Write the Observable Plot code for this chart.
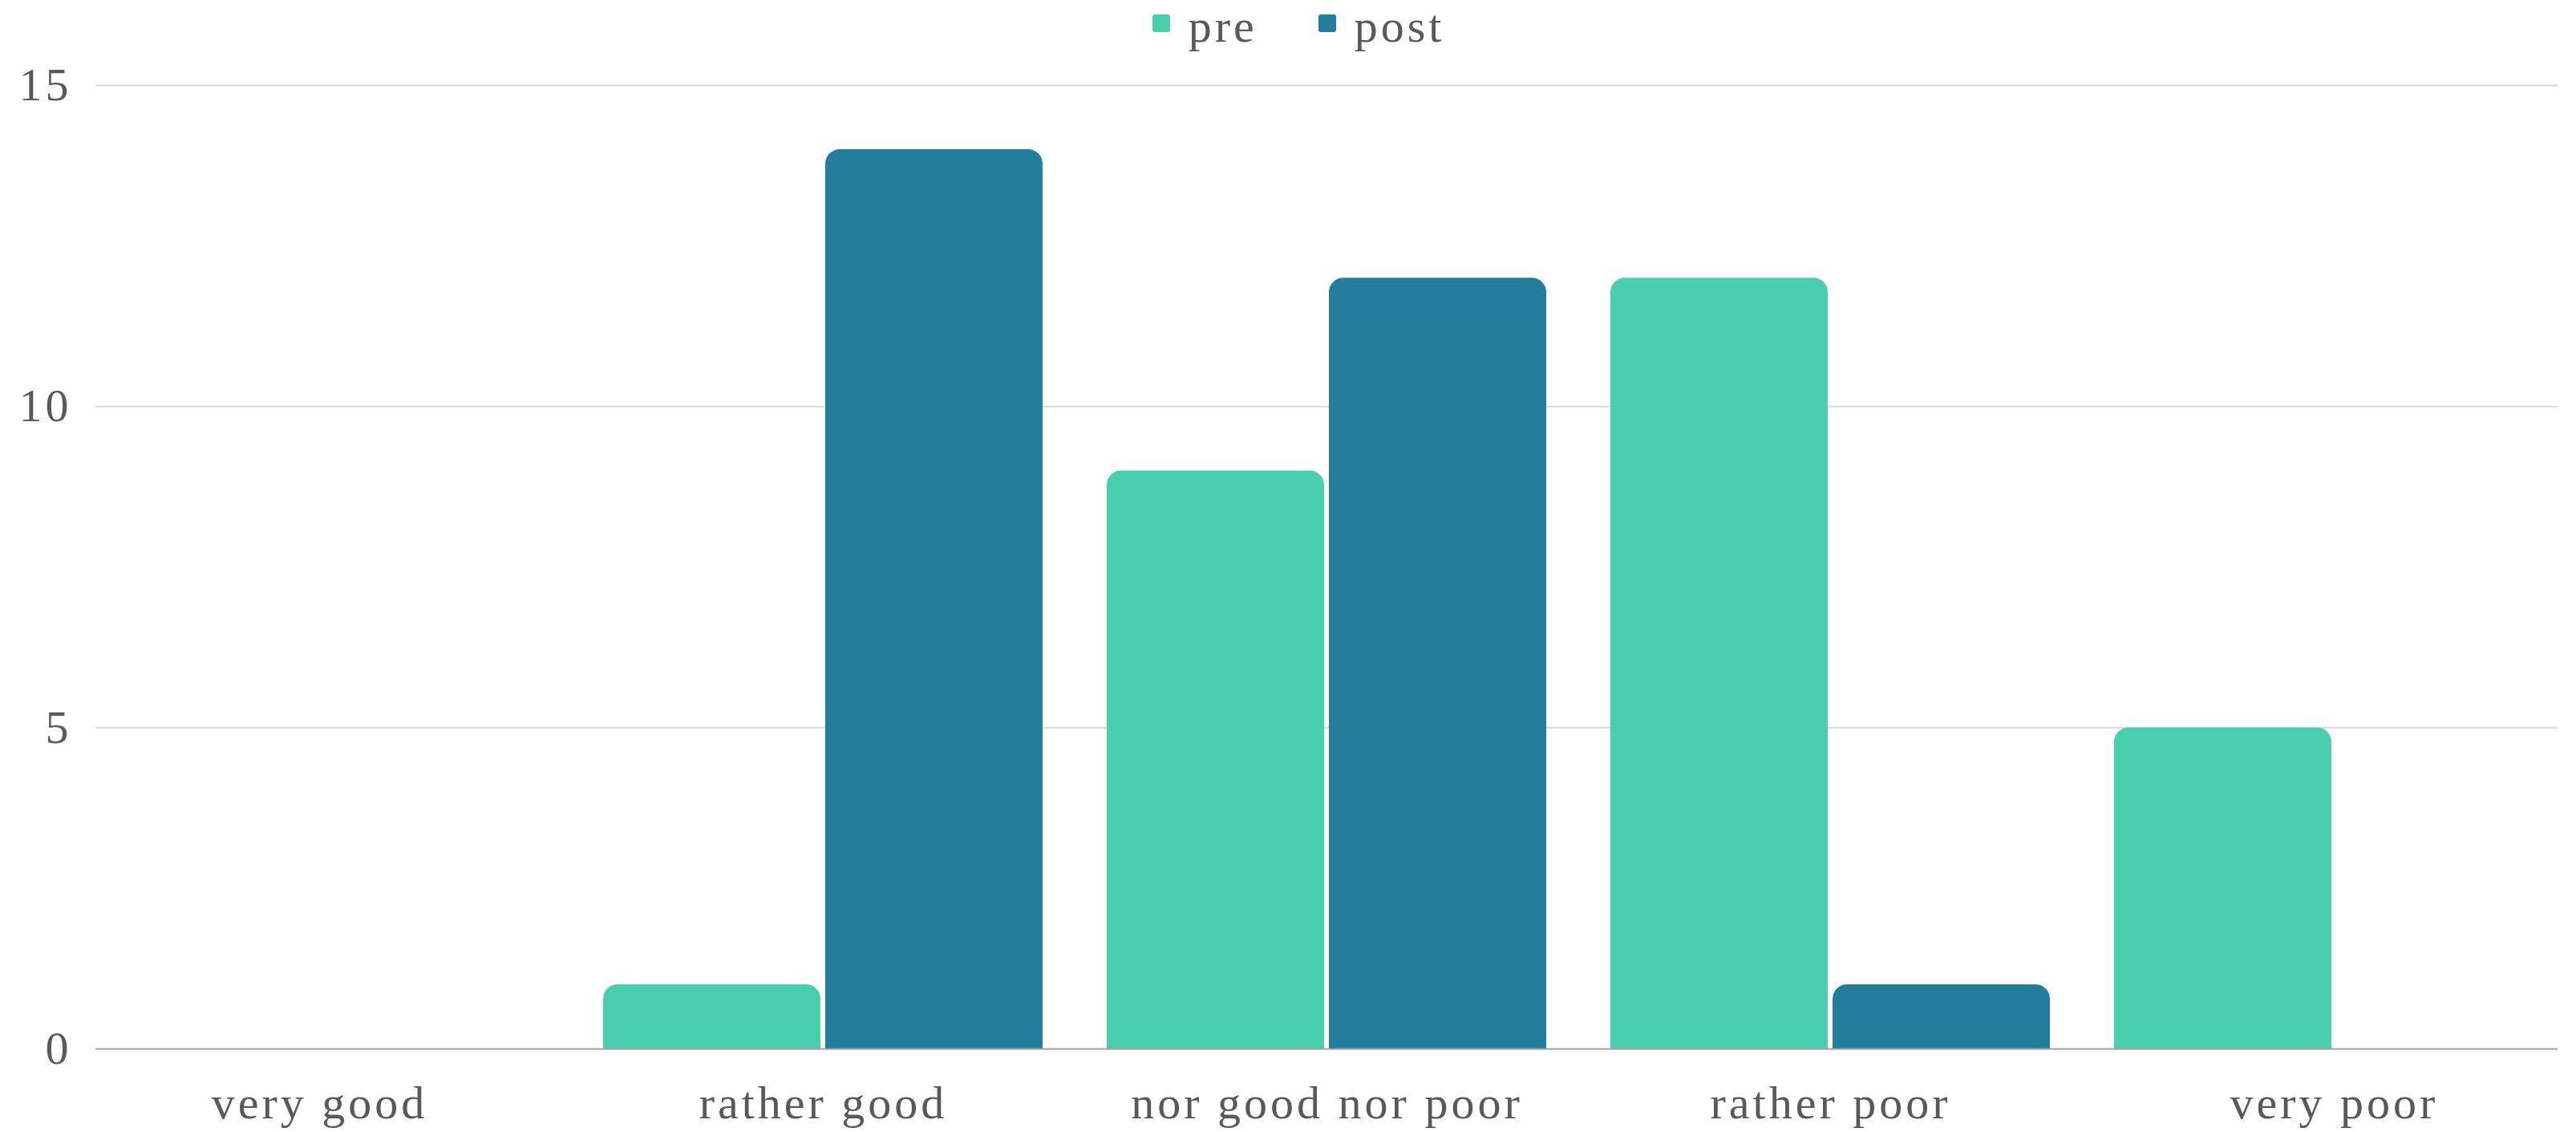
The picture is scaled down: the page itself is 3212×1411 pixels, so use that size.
<!DOCTYPE html>
<html>
<head>
<meta charset="utf-8">
<script src="https://cdn.jsdelivr.net/npm/d3@7"></script>
<script src="https://cdn.jsdelivr.net/npm/@observablehq/plot@0.6"></script>
<style>
  html, body { margin: 0; padding: 0; background: #ffffff; }
  #legend { height: 66px; display: flex; justify-content: center; padding-left: 26px; box-sizing: border-box;
            font-family: "Liberation Serif", "Times New Roman", serif; font-size: 58px; color: #595959; letter-spacing: 4px; }
  .item { display: flex; align-items: flex-start; margin: 0 38px; }
  .sw { width: 22px; height: 22px; border-radius: 3px; margin-top: 18px; margin-right: 23px; }
  .lab { line-height: 66px; }
</style>
</head>
<body>
<div id="legend"></div>
<div id="chart"></div>
<script>
const categories = ["very good", "rather good", "nor good nor poor", "rather poor", "very poor"];
const series = ["pre", "post"];
const preValues = [0, 1, 9, 12, 5];
const postValues = [0, 14, 12, 1, 0];
const yTicks = [0, 5, 10, 15];
const colors = ["#49cfae", "#237d9d"];

// legend
const legend = document.getElementById("legend");
series.forEach((s, i) => {
  const item = document.createElement("div");
  item.className = "item";
  const sw = document.createElement("div");
  sw.className = "sw";
  sw.style.background = colors[i];
  const lab = document.createElement("span");
  lab.className = "lab";
  lab.textContent = s;
  item.appendChild(sw);
  item.appendChild(lab);
  legend.appendChild(item);
});

const valuesBySeries = [preValues, postValues];
const insetsBySeries = [
  {insetLeft: 40, insetRight: 317},
  {insetLeft: 317, insetRight: 40}
];

const barMarks = [];
series.forEach((s, i) => {
  const rows = categories
    .map((c, j) => ({category: c, series: s, value: valuesBySeries[i][j]}))
    .filter(d => d.value > 0);
  barMarks.push(Plot.barY(rows, {x: "category", y: "value", fill: colors[i], rx: 18, ...insetsBySeries[i]}));
  barMarks.push(Plot.barY(rows, {x: "category", y: "value", fill: colors[i], insetTop: 22, ...insetsBySeries[i]}));
});

const chart = Plot.plot({
  width: 3212,
  height: 1345,
  marginTop: 40,
  marginBottom: 104,
  marginLeft: 119,
  marginRight: 23,
  style: {fontFamily: "'Liberation Serif', 'Times New Roman', serif", fontSize: "58px", color: "#595959", letterSpacing: "4px", background: "#ffffff"},
  x: {domain: categories, range: [83, 3225], padding: 0, label: null},
  y: {domain: [0, 15], label: null},
  marks: [
    Plot.ruleY(yTicks.filter(t => t > 0), {stroke: "#d9d9d9", strokeWidth: 2}),
    ...barMarks,
    Plot.ruleY([0], {stroke: "#a0a0a0", strokeWidth: 2}),
    Plot.axisY({ticks: yTicks, tickFormat: d => String(d), tickSize: 0, tickPadding: 30, label: null, fill: "#595959"}),
    Plot.axisX({tickSize: 0, tickPadding: 45, label: null, fill: "#595959"})
  ]
});
document.getElementById("chart").appendChild(chart);
</script>
</body>
</html>
